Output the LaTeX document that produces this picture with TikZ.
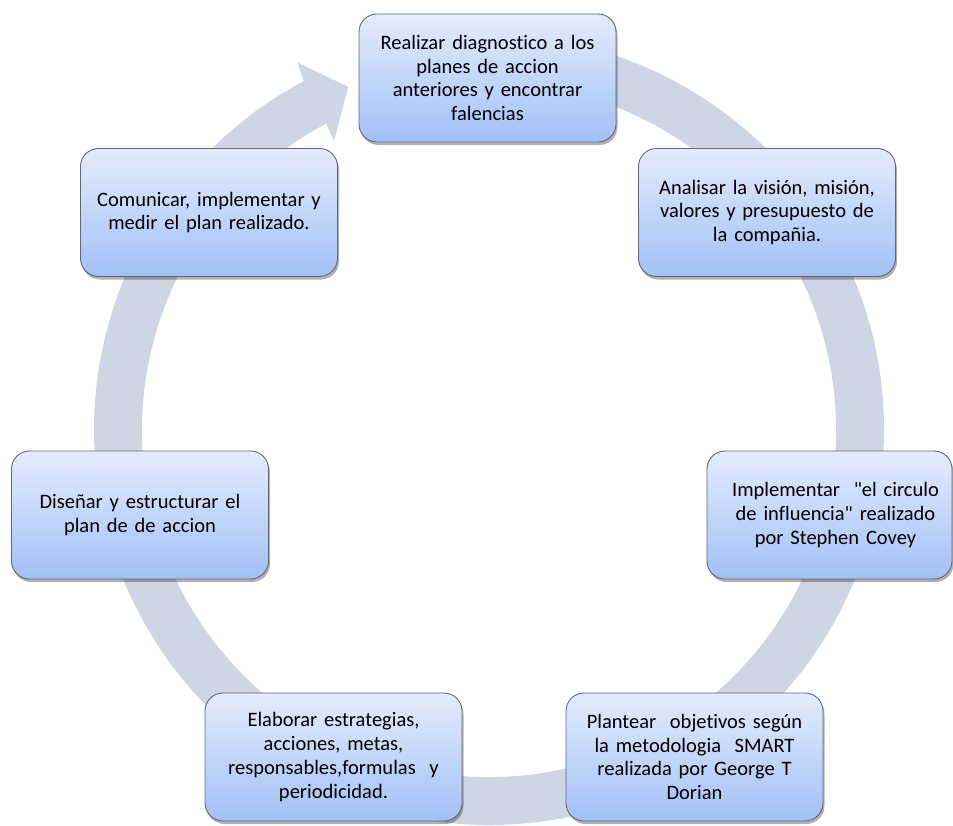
\documentclass[tikz,border=0pt]{standalone}
\usepackage{fontspec}
\setmainfont{Carlito}[Ligatures={TeXOff,CommonOff}]
\usetikzlibrary{shadows}
\definecolor{ringc}{RGB}{206,214,228}
\definecolor{boxtop}{RGB}{228,236,252}
\definecolor{boxbot}{RGB}{162,192,246}
\definecolor{boxline}{RGB}{95,105,120}
\begin{document}
\begin{tikzpicture}[x=1pt,y=1pt,
  stepbox/.style={rectangle, rounded corners=18pt, draw=boxline, line width=0.9pt,
    top color=boxtop, bottom color=boxbot, minimum width=257pt, minimum height=128pt,
    align=center, text width=245pt, inner sep=0pt,
    font=\fontsize{20.5}{23.8}\selectfont,
    drop shadow={shadow xshift=1.5pt, shadow yshift=-3pt, opacity=0.3, fill=black}}]
\useasboundingbox (0,0) rectangle (953,-825);
% ring arrow
\begin{scope}[shift={(489,-430)}]
\fill[ringc] (85:395) arc[start angle=85, end angle=-242, radius=395]
  -- (-242.5:414) -- (-247.7:371) -- (-241.8:328) -- (-242:347)
  arc[start angle=-242, end angle=85, radius=347] -- cycle;
\end{scope}
% boxes
\node[stepbox] (b1) at (487.5,-78) {Realizar diagnostico a los\\planes de accion\\anteriores y encontrar\\falencias};
\node[stepbox] (b2) at (767,-212.5) {Analisar la visión, misión,\\valores y presupuesto de\\la compañia.};
\node[stepbox, minimum width=245pt, text width=238pt] (b3) at (829.5,-515) {\hspace*{12pt}Implementar\ \ "el circulo\\\hspace*{12pt}de influencia" realizado\\\hspace*{12pt}por Stephen Covey};
\node[stepbox] (b4) at (694.5,-757) {Plantear\ \ objetivos según\\la metodologia\ \ SMART\\realizada por George T\\Dorian};
\node[stepbox] (b5) at (333.5,-757) {Elaborar estrategias,\\acciones, metas,\\responsables,formulas\ \ y\\periodicidad.};
\node[stepbox] (b6) at (140,-515) {Diseñar y estructurar el\\plan de de accion};
\node[stepbox] (b7) at (209,-212.5) {Comunicar, implementar y\\medir el plan realizado.};
\end{tikzpicture}
\end{document}
